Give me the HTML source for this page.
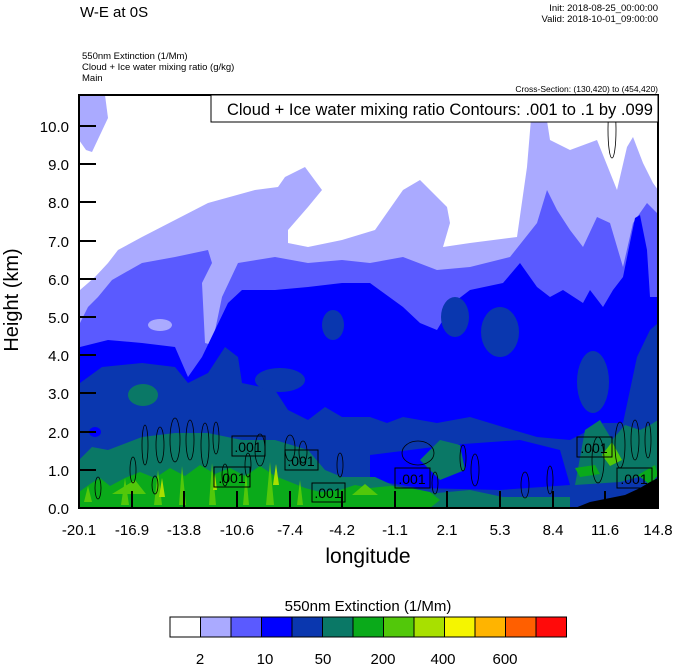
<!DOCTYPE html>
<html><head><meta charset="utf-8"><style>
html,body{margin:0;padding:0;background:#fff;}
svg{display:block;font-family:"Liberation Sans",sans-serif;}
</style></head><body>
<svg width="674" height="667" viewBox="0 0 674 667">
<defs><clipPath id="c"><rect x="79" y="95" width="579" height="413"/></clipPath></defs>
<text x="80" y="17" font-size="15">W-E at 0S</text>
<text x="658" y="11" font-size="9.5" text-anchor="end">Init: 2018-08-25_00:00:00</text>
<text x="658" y="22" font-size="9.5" text-anchor="end">Valid: 2018-10-01_09:00:00</text>
<text x="82" y="59" font-size="9.5">550nm Extinction   (1/Mm)</text>
<text x="82" y="70" font-size="9.5">Cloud + Ice water mixing ratio   (g/kg)</text>
<text x="82" y="81" font-size="9.5">Main</text>
<text x="658" y="92" font-size="8.5" text-anchor="end">Cross-Section: (130,420) to (454,420)</text>
<g clip-path="url(#c)">
<rect x="79" y="95" width="579" height="413" fill="#fff"/>
<path fill="#aaaaff" d="M79,325 L80,290 95,277 108,263 118,250 142,237 175,220 208,203 255,190 278,187 285,177 305,167 322,190 308,207 288,230 288,243 308,247 342,240 375,230 403,190 420,180 447,207 450,223 443,247 470,243 517,237 527,167 533,95 543,95 550,140 570,150 597,140 617,190 627,147 633,137 643,163 653,183 658,190 L658,508 L79,508Z"/>
<path fill="#fff" d="M600,95 L615,95 618,140 612,150 604,130Z M640,95 L658,95 658,180 650,170 642,130Z"/>
<path fill="#aaaaff" d="M79,95 L105,95 108,118 100,135 92,152 86,150 79,140Z"/>
<path fill="#5a5aff" d="M79,330 L80,323 88,307 98,297 112,280 142,263 175,257 208,250 212,263 202,283 205,343 212,345 222,297 238,263 275,257 308,263 342,260 370,263 403,257 437,270 470,267 510,257 537,223 547,190 557,210 570,230 583,247 597,217 610,223 623,267 633,223 647,203 657,213 658,283 L658,508 L79,508Z"/>
<ellipse cx="160" cy="325" rx="12" ry="6" fill="#aaaaff"/>
<path fill="#0000ff" d="M79,350 L80,347 108,340 142,343 175,347 188,377 202,357 228,303 242,290 275,290 308,287 342,283 370,283 403,307 420,323 437,330 453,303 470,290 503,283 520,263 537,287 550,297 563,290 583,303 590,290 603,307 613,290 623,277 635,218 640,215 647,250 650,297 658,297 L658,508 L79,508Z"/>
<path fill="#0a37af" d="M79,385 L80,383 102,367 142,363 175,367 188,383 208,373 225,347 238,357 242,383 275,390 288,410 308,420 325,407 342,417 370,417 387,423 403,417 437,423 470,417 503,427 537,437 570,440 603,423 623,423 637,357 650,330 658,323 L658,508 L79,508Z"/>
<ellipse cx="333" cy="325" rx="11" ry="15" fill="#0a37af"/>
<ellipse cx="455" cy="317" rx="14" ry="20" fill="#0a37af"/>
<ellipse cx="500" cy="332" rx="19" ry="25" fill="#0a37af"/>
<ellipse cx="593" cy="382" rx="16" ry="31" fill="#0a37af"/>
<ellipse cx="280" cy="380" rx="25" ry="12" fill="#0a37af"/>
<path fill="#0000ff" d="M370,455 L450,445 520,440 560,450 570,485 500,490 420,488 370,480Z"/>
<ellipse cx="95" cy="432" rx="6" ry="5" fill="#0000ff"/>
<path fill="#0a7866" d="M79,460 L92,447 108,450 142,437 175,433 208,433 242,440 275,440 308,450 325,470 342,477 375,477 403,490 437,493 470,490 503,497 570,497 L570,508 L79,508Z"/>
<ellipse cx="143" cy="395" rx="15" ry="11" fill="#0a7866"/>
<path fill="#0a7866" d="M575,485 L585,430 600,420 612,440 625,425 640,430 650,425 658,420 L658,472 620,482 Z"/>
<path fill="#0a7866" d="M420,460 L440,440 460,445 465,470 440,480Z"/>
<path fill="#0aaa1a" d="M79,492 L90,484 100,478 110,486 125,478 140,472 155,478 170,468 185,476 200,465 215,474 230,468 245,476 260,466 275,476 290,482 305,488 320,492 340,490 355,485 370,488 390,486 410,488 430,492 440,500 430,508 L79,508Z"/>
<path fill="#52c80a" d="M84,502 L88,486 92,502Z M121,505 L125,478 129,505Z M154,505 L158,470 162,505Z M179,505 L182,466 186,505Z M209,505 L212,463 216,505Z M243,505 L246,472 249,505Z M266,505 L270,462 274,505Z M297,505 L300,480 303,505Z M352,495 L365,484 378,495Z M112,494 L135,480 146,494Z M602,455 L612,442 622,460 610,466Z"/>
<path fill="#a8e000" d="M159,497 L162,478 165,497Z M273,485 L276,464 279,485Z M213,490 L215,474 217,490Z"/>
<path fill="#0aaa1a" d="M638,475 L655,465 658,475 650,485Z M575,468 L595,465 600,474 580,477Z"/>
<path fill="#000" d="M575,508 L590,502 610,498 625,495 640,488 650,482 658,478 L658,508Z"/>
<g fill="none" stroke="#000" stroke-width="0.8">
<ellipse cx="145" cy="445" rx="3" ry="20"/><ellipse cx="160" cy="445" rx="4" ry="18"/>
<ellipse cx="175" cy="440" rx="5" ry="22"/><ellipse cx="190" cy="440" rx="4" ry="20"/>
<ellipse cx="205" cy="445" rx="4" ry="22"/><ellipse cx="216" cy="438" rx="3" ry="16"/>
<ellipse cx="133" cy="470" rx="3" ry="13"/><ellipse cx="260" cy="450" rx="5" ry="16"/>
<ellipse cx="290" cy="448" rx="5" ry="13"/><ellipse cx="303" cy="452" rx="4" ry="11"/>
<ellipse cx="98" cy="488" rx="3" ry="11"/><ellipse cx="155" cy="485" rx="3" ry="9"/>
<ellipse cx="225" cy="475" rx="3" ry="11"/><ellipse cx="418" cy="453" rx="16" ry="12"/>
<ellipse cx="463" cy="458" rx="3" ry="13"/><ellipse cx="475" cy="470" rx="4" ry="16"/>
<ellipse cx="525" cy="485" rx="4" ry="13"/><ellipse cx="550" cy="480" rx="3" ry="14"/>
<ellipse cx="435" cy="483" rx="3" ry="11"/><ellipse cx="598" cy="460" rx="6" ry="23"/>
<ellipse cx="620" cy="445" rx="5" ry="23"/><ellipse cx="635" cy="440" rx="4" ry="20"/>
<ellipse cx="648" cy="440" rx="3" ry="18"/><ellipse cx="612" cy="130" rx="4" ry="28"/>
<ellipse cx="340" cy="465" rx="3" ry="12"/><ellipse cx="248" cy="465" rx="3" ry="12"/>
</g>
<g font-size="14" text-anchor="middle">
<rect x="232" y="436" width="33" height="20" fill="none" stroke="#000"/><text x="248" y="452">.001</text>
<rect x="285" y="450" width="33" height="20" fill="none" stroke="#000"/><text x="301" y="466">.001</text>
<rect x="214" y="467" width="36" height="20" fill="none" stroke="#000"/><text x="232" y="483">.001</text>
<rect x="312" y="483" width="33" height="19" fill="none" stroke="#000"/><text x="328" y="498">.001</text>
<rect x="395" y="468" width="35" height="20" fill="none" stroke="#000"/><text x="412" y="484">.001</text>
<rect x="577" y="437" width="35" height="20" fill="none" stroke="#000"/><text x="594" y="453">.001</text>
<rect x="617" y="468" width="35" height="20" fill="none" stroke="#000"/><text x="634" y="484">.001</text>
</g>
</g>
<rect x="79" y="95" width="579" height="413" fill="none" stroke="#000" stroke-width="2"/>
<rect x="211" y="95" width="447" height="27" fill="#fff" stroke="#000" stroke-width="1"/>
<text x="653" y="115" font-size="16.5" text-anchor="end">Cloud + Ice water mixing ratio Contours: .001 to .1 by .099</text>
<g stroke="#000" stroke-width="2">
<line x1="79" y1="126" x2="96" y2="126"/><line x1="79" y1="164" x2="96" y2="164"/><line x1="79" y1="202" x2="96" y2="202"/><line x1="79" y1="241" x2="96" y2="241"/><line x1="79" y1="279" x2="96" y2="279"/><line x1="79" y1="317" x2="96" y2="317"/><line x1="79" y1="355" x2="96" y2="355"/><line x1="79" y1="393" x2="96" y2="393"/><line x1="79" y1="432" x2="96" y2="432"/><line x1="79" y1="470" x2="96" y2="470"/>
<line x1="132" y1="508" x2="132" y2="491"/><line x1="184" y1="508" x2="184" y2="491"/><line x1="237" y1="508" x2="237" y2="491"/><line x1="290" y1="508" x2="290" y2="491"/><line x1="342" y1="508" x2="342" y2="491"/><line x1="395" y1="508" x2="395" y2="491"/><line x1="447" y1="508" x2="447" y2="491"/><line x1="500" y1="508" x2="500" y2="491"/><line x1="553" y1="508" x2="553" y2="491"/><line x1="605" y1="508" x2="605" y2="491"/>
</g>
<g font-size="15" text-anchor="end">
<text x="69" y="132">10.0</text><text x="69" y="170">9.0</text><text x="69" y="208">8.0</text><text x="69" y="247">7.0</text><text x="69" y="285">6.0</text><text x="69" y="323">5.0</text><text x="69" y="361">4.0</text><text x="69" y="399">3.0</text><text x="69" y="438">2.0</text><text x="69" y="476">1.0</text><text x="69" y="514">0.0</text>
</g>
<g font-size="15" text-anchor="middle">
<text x="79" y="535">-20.1</text><text x="132" y="535">-16.9</text><text x="184" y="535">-13.8</text><text x="237" y="535">-10.6</text><text x="290" y="535">-7.4</text><text x="342" y="535">-4.2</text><text x="395" y="535">-1.1</text><text x="447" y="535">2.1</text><text x="500" y="535">5.3</text><text x="553" y="535">8.4</text><text x="605" y="535">11.6</text><text x="658" y="535">14.8</text>
</g>
<text x="368" y="563" font-size="21" text-anchor="middle">longitude</text>
<text transform="translate(18,300) rotate(-90)" font-size="20" text-anchor="middle">Height (km)</text>
<text x="368" y="611" font-size="15" text-anchor="middle">550nm Extinction  (1/Mm)</text>
<g stroke="#000" stroke-width="1">
<rect x="170" y="617" width="30.5" height="20" fill="#fff"/>
<rect x="200.5" y="617" width="30.5" height="20" fill="#aaaaff"/>
<rect x="231" y="617" width="30.5" height="20" fill="#5a5aff"/>
<rect x="261.5" y="617" width="30.5" height="20" fill="#0000ff"/>
<rect x="292" y="617" width="30.5" height="20" fill="#0a37af"/>
<rect x="322.5" y="617" width="30.5" height="20" fill="#0a7866"/>
<rect x="353" y="617" width="30.5" height="20" fill="#0aaa1a"/>
<rect x="383.5" y="617" width="30.5" height="20" fill="#52c80a"/>
<rect x="414" y="617" width="30.5" height="20" fill="#a8e000"/>
<rect x="444.5" y="617" width="30.5" height="20" fill="#f5f500"/>
<rect x="475" y="617" width="30.5" height="20" fill="#ffb400"/>
<rect x="505.5" y="617" width="30.5" height="20" fill="#ff5f00"/>
<rect x="536" y="617" width="30.5" height="20" fill="#ff0a0a"/>
</g>
<g font-size="15" text-anchor="middle">
<text x="200" y="664">2</text><text x="265" y="664">10</text><text x="323" y="664">50</text><text x="383" y="664">200</text><text x="443" y="664">400</text><text x="505" y="664">600</text>
</g>
</svg>
</body></html>
